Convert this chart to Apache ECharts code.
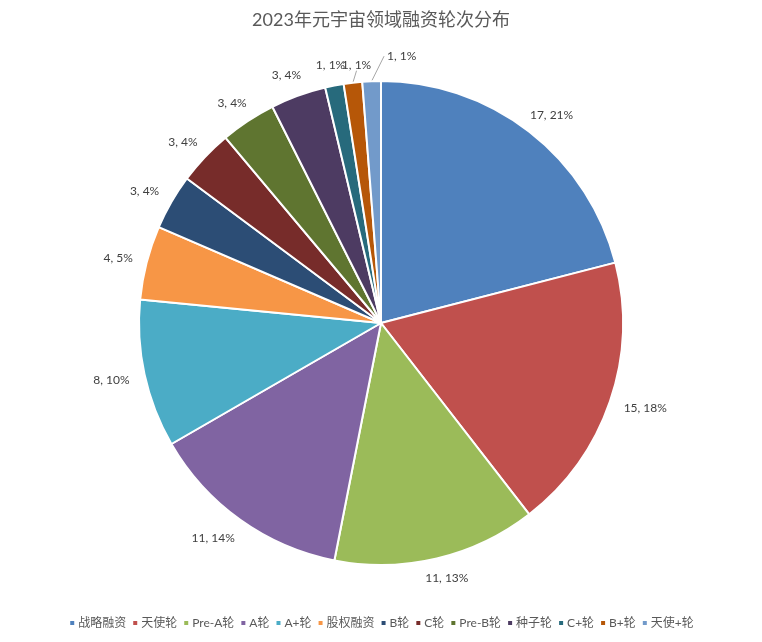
<!DOCTYPE html>
<html>
<head>
<meta charset="utf-8">
<script src="https://cdn.jsdelivr.net/npm/echarts@6/dist/echarts.min.js"></script>
<style>
  html, body { margin: 0; padding: 0; background: #fff; }
  #chart { width: 762px; height: 642px; }
</style>
</head>
<body>
<div id="chart"></div>
<script>
// 融资轮次
const categories = ['战略融资', '天使轮', 'Pre-A轮', 'A轮', 'A+轮', '股权融资', 'B轮', 'C轮', 'Pre-B轮', '种子轮', 'C+轮', 'B+轮', '天使+轮'];
const counts = [17, 15, 11, 11, 8, 4, 3, 3, 3, 3, 1, 1, 1];
// 图上显示的百分比
const percents = ['21%', '18%', '13%', '14%', '10%', '5%', '4%', '4%', '4%', '4%', '1%', '1%', '1%'];
const colors = ['#4F81BD', '#C0504D', '#9BBB59', '#8064A2', '#4BACC6', '#F79646', '#2C4D75', '#772C2A', '#5F7530', '#4D3B62', '#276A7C', '#B65708', '#729ACA'];
// 标签微调 (dx, dy)，模仿 Excel 的标签位置
const labelShift = [[-12, -12], [-1, 5], [-22, 14], [7, 13], [0, 5], [1, -3], [2, -8], [6, -11], [11, -13], [14, -15], [21, -15], [28, -12], [54, -19]];

const font = 'Lato, "Noto Sans CJK SC"';

const chart = echarts.init(document.getElementById('chart'));

const data = categories.map((name, i) => {
  const item = { name: name, value: counts[i], itemStyle: { color: colors[i] } };
  if (i >= 11) {
    item.labelLine = { show: true };
  }
  return item;
});

chart.setOption({
  animation: false,
  title: {
    text: '2023年元宇宙领域融资轮次分布',
    left: 'center',
    top: 6,
    textStyle: {
      fontFamily: font,
      fontSize: 18,
      fontWeight: 'normal',
      color: '#595959'
    }
  },
  legend: {
    bottom: 8,
    left: 'center',
    icon: 'rect',
    itemWidth: 6,
    itemHeight: 6,
    itemGap: 5,
    textStyle: {
      fontFamily: font,
      fontSize: 12,
      color: '#595959',
      padding: [0, 0, 0, -2]
    },
    data: categories
  },
  series: [{
    type: 'pie',
    center: [381, 323],
    radius: 242,
    startAngle: 90,
    clockwise: true,
    avoidLabelOverlap: false,
    itemStyle: { borderColor: '#fff', borderWidth: 2 },
    label: {
      show: true,
      position: 'outside',
      fontFamily: font,
      fontSize: 12,
      color: '#404040',
      formatter: p => counts[p.dataIndex] + ', ' + percents[p.dataIndex]
    },
    labelLine: {
      show: false,
      length: 6,
      length2: 4,
      lineStyle: { color: '#a6a6a6', width: 1 }
    },
    labelLayout: p => {
      const s = labelShift[p.dataIndex];
      const out = { dx: s[0], dy: s[1] };
      if (p.dataIndex >= 11 && p.labelLinePoints) {
        const r = p.labelRect;
        const start = p.labelLinePoints[0];
        const x = r.x + s[0];
        const y = r.y + s[1];
        const end = p.dataIndex === 11
          ? [x + r.width / 2, y + r.height]
          : [x - 3, y + r.height / 2];
        out.labelLinePoints = [start, end, end];
      }
      return out;
    },
    emphasis: { disabled: true },
    data: data
  }]
});
</script>
</body>
</html>
